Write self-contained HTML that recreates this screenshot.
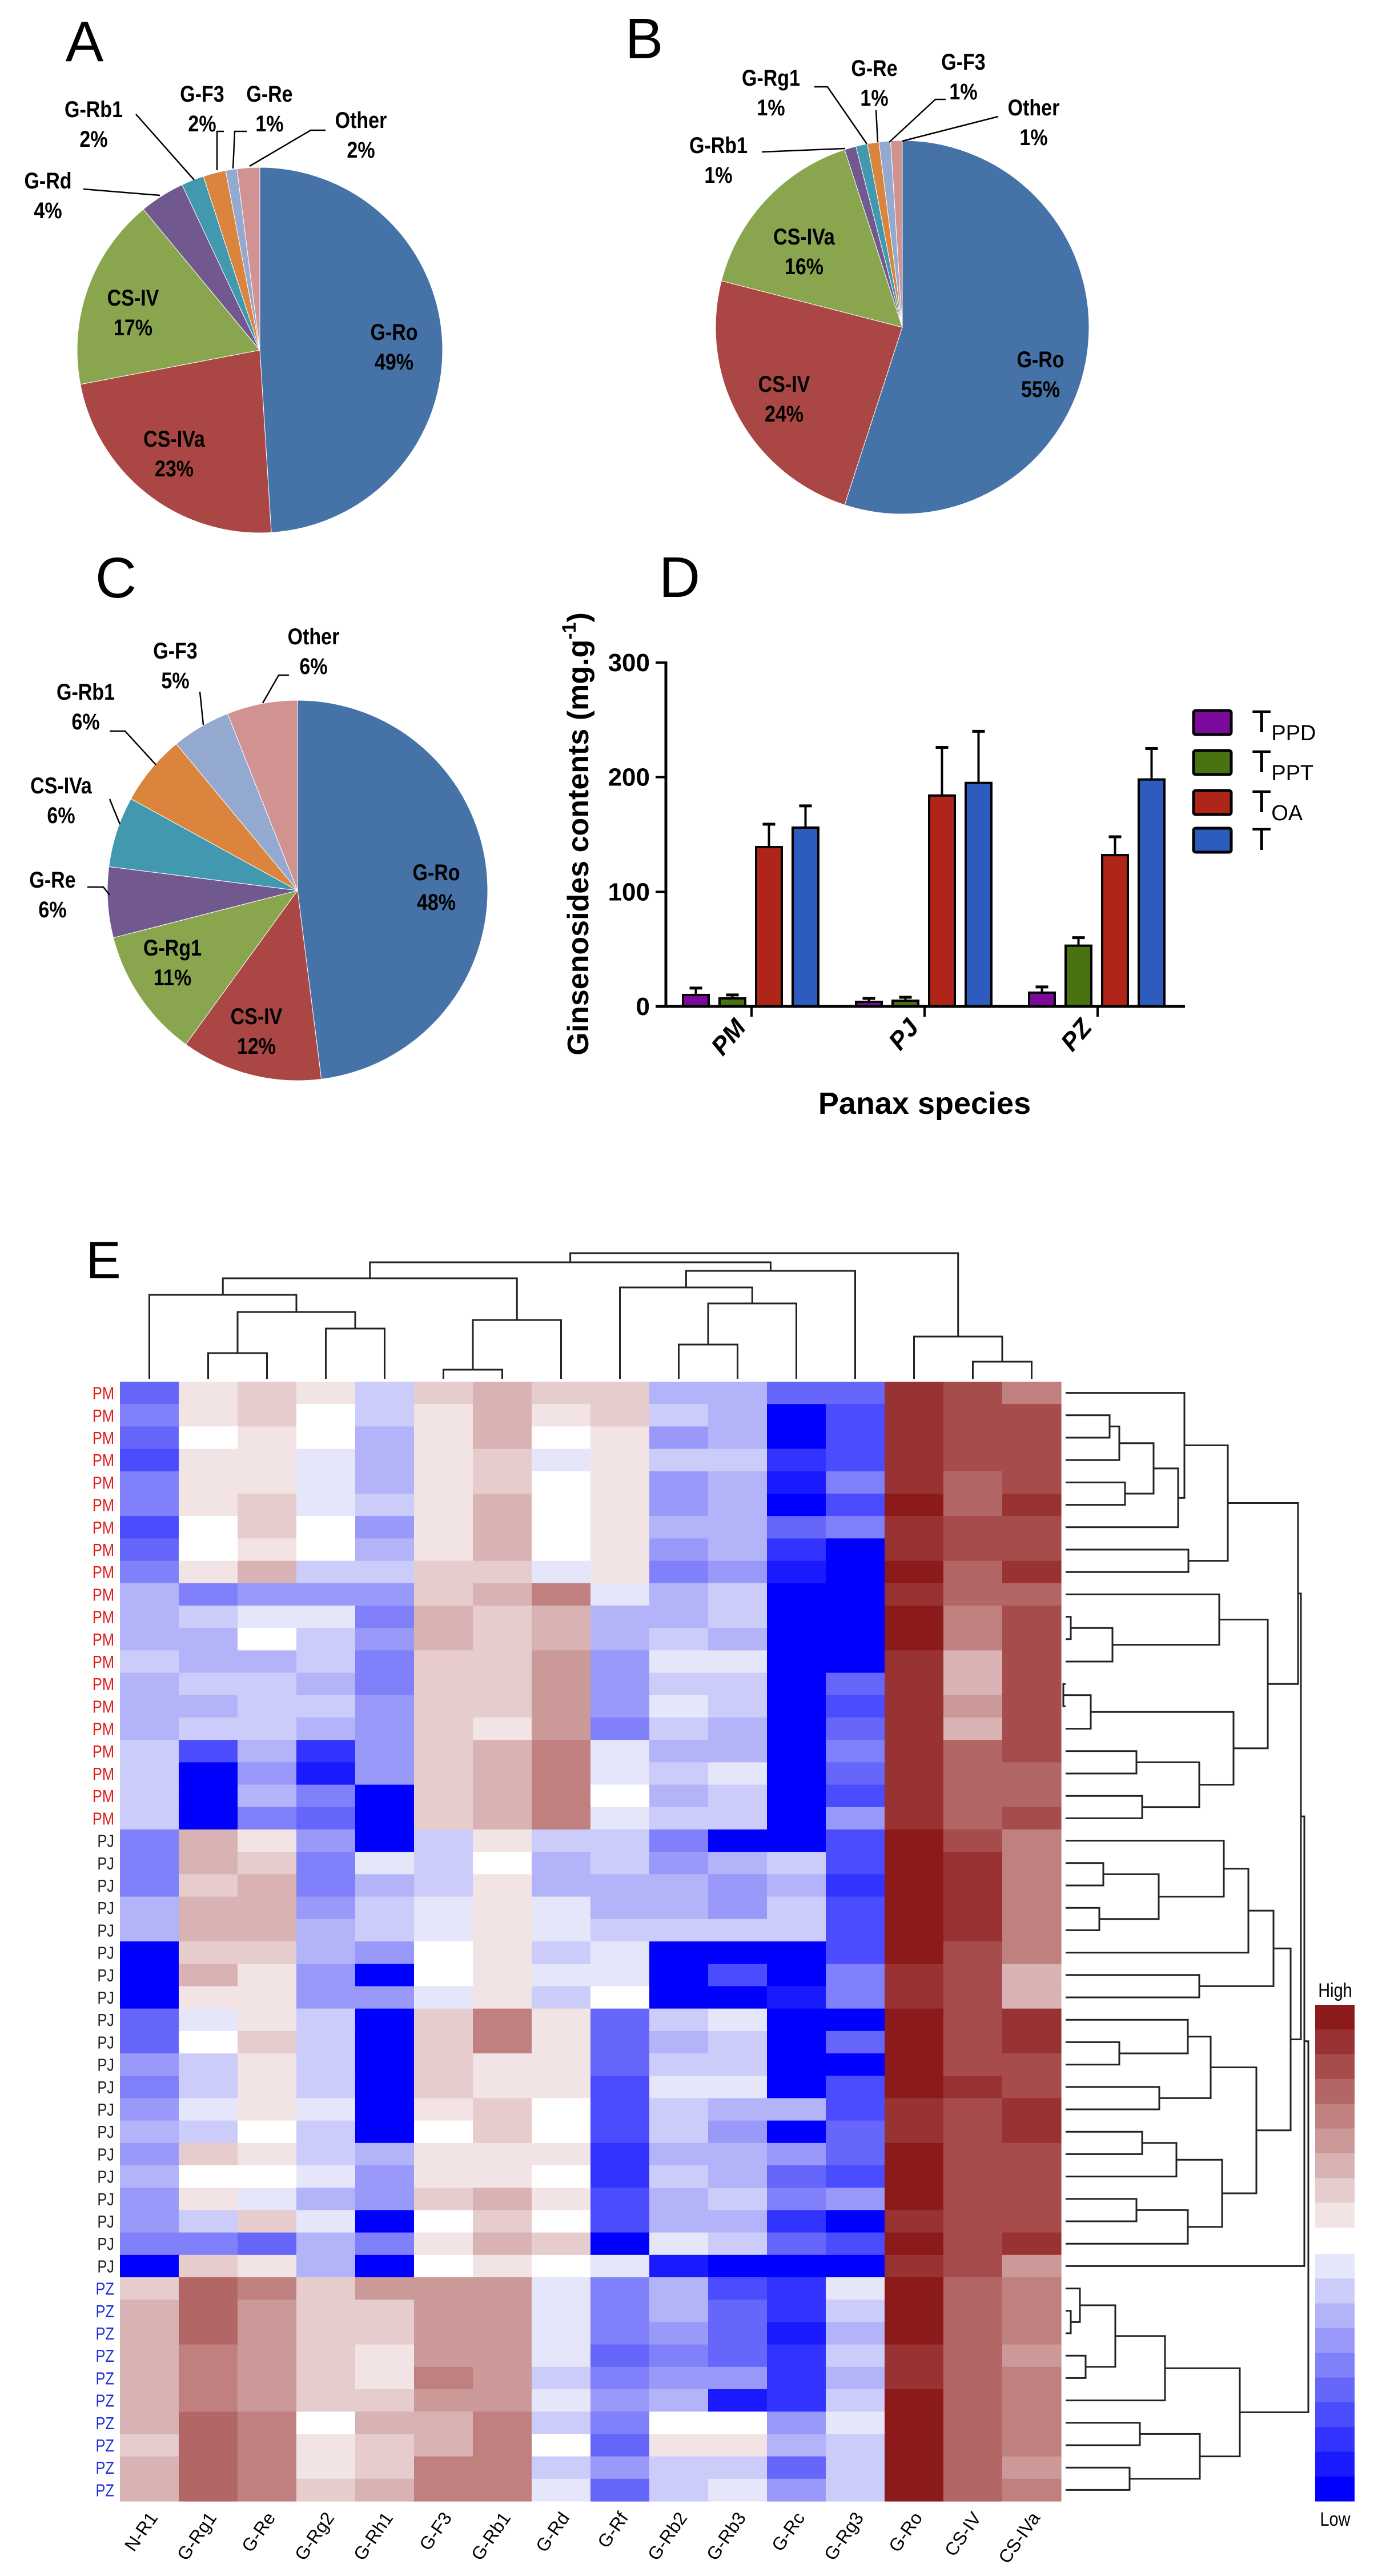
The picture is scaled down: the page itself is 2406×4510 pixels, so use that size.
<!DOCTYPE html>
<html><head><meta charset="utf-8">
<style>
html,body{margin:0;padding:0;background:#fff;}
svg{display:block;font-family:"Liberation Sans",sans-serif;}
</style></head>
<body>
<svg id="fig" xmlns="http://www.w3.org/2000/svg" width="2406" height="4510" viewBox="0 0 2406 4510">
<rect x="0" y="0" width="2406" height="4510" fill="#fff"/>
<g id="pA"></g>
<g id="pB"></g>
<g id="pC"></g>
<g id="pD"></g>
<g id="pE"></g>
</svg>
<script>
// ---------- Pie data ----------
const pieColors = ['#4572A7','#AA4643','#89A54E','#71588F','#4198AF','#DB843D','#93A9CF','#D19392'];
const pieALabels = ['G-Ro','CS-IVa','CS-IV','G-Rd','G-Rb1','G-F3','G-Re','Other'];
const pieAValues = [49,23,17,4,2,2,1,2];
const pieBLabels = ['G-Ro','CS-IV','CS-IVa','G-Rb1','G-Rg1','G-Re','G-F3','Other'];
const pieBValues = [55,24,16,1,1,1,1,1];
const pieCLabels = ['G-Ro','CS-IV','G-Rg1','G-Re','CS-IVa','G-Rb1','G-F3','Other'];
const pieCValues = [48,12,11,6,6,6,5,6];

// ---------- Bar data ----------
const barCategories = ['PM','PJ','PZ'];
const barSeries = ['PPD','PPT','OA',''];
const barColors = ['#7B0A9B','#4A7210','#B0251A','#2E5BBE'];
const valsTPPD = [10,4,12];
const errTPPD = [6,3,5];
const valsTPPT = [7,5,53];
const errTPPT = [3,3,7];
const valsTOA = [139,184,132];
const errTOA = [20,42,16];
const valsT = [156,195,198];
const errT = [19,45,27];
const yTicks = [0,100,200,300];

// ---------- Heatmap data ----------
const hmCols = ['N-R1','G-Rg1','G-Re','G-Rg2','G-Rh1','G-F3','G-Rb1','G-Rd','G-Rf','G-Rb2','G-Rb3','G-Rc','G-Rg3','G-Ro','CS-IV','CS-IVa'];
const hmRowGroups = ['PM','PM','PM','PM','PM','PM','PM','PM','PM','PM','PM','PM','PM','PM','PM','PM','PM','PM','PM','PM',
'PJ','PJ','PJ','PJ','PJ','PJ','PJ','PJ','PJ','PJ','PJ','PJ','PJ','PJ','PJ','PJ','PJ','PJ','PJ','PJ',
'PZ','PZ','PZ','PZ','PZ','PZ','PZ','PZ','PZ','PZ'];
const hmValues = [
[-6,1,2,1,-2,2,3,2,2,-3,-3,-6,-6,8,7,5],
[-5,1,2,0,-2,1,3,1,2,-2,-3,-10,-7,8,7,7],
[-6,0,1,0,-3,1,3,0,1,-4,-3,-10,-7,8,7,7],
[-7,1,1,-1,-3,1,2,-1,1,-2,-2,-8,-7,8,7,7],
[-5,1,1,-1,-3,1,2,0,1,-4,-3,-9,-5,8,6,7],
[-5,1,2,-1,-2,1,3,0,1,-4,-3,-10,-7,9,6,8],
[-7,0,2,0,-4,1,3,0,1,-3,-3,-6,-5,8,7,7],
[-6,0,1,0,-3,1,3,0,1,-4,-3,-8,-10,8,7,7],
[-5,1,3,-2,-2,2,2,-1,1,-5,-4,-9,-10,9,6,8],
[-3,-5,-4,-4,-4,2,3,5,-1,-3,-2,-10,-10,8,6,6],
[-3,-2,-1,-1,-5,3,2,3,-3,-3,-2,-10,-10,9,5,7],
[-3,-3,0,-2,-4,3,2,3,-3,-2,-3,-10,-10,9,5,7],
[-2,-3,-3,-2,-5,2,2,4,-4,-1,-1,-10,-10,8,3,7],
[-3,-2,-2,-3,-5,2,2,4,-4,-2,-2,-10,-6,8,3,7],
[-3,-3,-2,-2,-4,2,2,4,-4,-1,-2,-10,-7,8,4,7],
[-3,-2,-2,-3,-4,2,1,4,-5,-2,-3,-10,-6,8,3,7],
[-2,-7,-3,-8,-4,2,3,5,-1,-3,-3,-10,-5,8,6,7],
[-2,-10,-4,-9,-4,2,3,5,-1,-2,-1,-10,-6,8,6,6],
[-2,-10,-3,-5,-10,2,3,5,0,-3,-2,-10,-7,8,6,6],
[-2,-10,-5,-6,-10,2,3,5,-1,-2,-2,-10,-4,8,6,7],
[-5,3,1,-4,-10,-2,1,-2,-2,-5,-10,-10,-7,9,7,5],
[-5,3,2,-5,-1,-2,0,-3,-2,-4,-3,-2,-7,9,8,5],
[-5,2,3,-5,-3,-2,1,-3,-3,-3,-4,-3,-8,9,8,5],
[-3,3,3,-4,-2,-1,1,-1,-3,-3,-4,-2,-7,9,8,5],
[-3,3,3,-3,-2,-1,1,-1,-2,-2,-2,-2,-7,9,8,5],
[-10,2,2,-3,-4,0,1,-2,-1,-10,-10,-10,-7,9,7,5],
[-10,3,1,-4,-10,0,1,-1,-1,-10,-7,-10,-5,8,7,3],
[-10,1,1,-4,-4,-1,1,-2,0,-10,-10,-9,-5,8,7,3],
[-6,-1,1,-2,-10,2,5,1,-6,-2,-1,-10,-10,9,7,8],
[-6,0,2,-2,-10,2,5,1,-6,-3,-2,-10,-6,9,7,8],
[-4,-2,1,-2,-10,2,1,1,-6,-2,-2,-10,-10,9,7,7],
[-5,-2,1,-2,-10,2,1,1,-7,-1,-1,-10,-7,9,8,7],
[-4,-1,1,-1,-10,1,2,0,-7,-2,-3,-3,-7,8,7,8],
[-3,-2,0,-2,-10,0,2,0,-7,-2,-4,-10,-6,8,7,8],
[-4,2,1,-2,-3,1,1,1,-8,-3,-3,-4,-6,9,7,7],
[-3,0,0,-1,-4,1,1,0,-8,-2,-3,-6,-7,9,7,7],
[-4,1,-1,-3,-4,2,3,1,-7,-3,-2,-5,-4,9,7,7],
[-4,-2,2,-1,-10,0,2,0,-7,-3,-3,-8,-10,8,7,7],
[-5,-5,-6,-3,-5,1,3,2,-10,-1,-2,-6,-7,9,7,8],
[-10,2,1,-3,-10,0,1,0,-1,-9,-10,-10,-10,8,7,4],
[2,6,5,2,4,4,4,-1,-5,-3,-7,-8,-1,9,6,5],
[3,6,4,2,2,4,4,-1,-5,-3,-6,-8,-2,9,6,5],
[3,6,4,2,2,4,4,-1,-5,-4,-6,-9,-3,9,6,5],
[3,5,4,2,1,4,4,-1,-6,-5,-6,-8,-2,8,6,4],
[3,5,4,2,1,5,4,-2,-5,-4,-4,-8,-3,8,6,5],
[3,5,4,2,2,4,4,-1,-4,-3,-9,-8,-2,9,6,5],
[3,6,5,0,3,3,5,-2,-5,0,0,-4,-1,9,6,5],
[2,6,5,1,2,3,5,0,-6,1,1,-3,-2,9,6,5],
[3,6,5,1,2,5,5,-2,-4,-2,-2,-6,-2,9,6,4],
[3,6,5,2,3,5,5,-1,-6,-2,-1,-4,-2,9,6,5]
];
const redScale = ['#F2E4E4','#E6CCCC','#D9B3B3','#CC9999','#C08080','#B36666','#A64C4C','#993333','#8C1A1A'];
const blueScale = ['#E6E6FA','#CCCCFA','#B3B3FA','#9999FA','#8080FA','#6666FA','#4C4CFF','#3333FF','#1A1AFF','#0000FF'];
// dendrogram trees: [left, right, level]
const colTree = [[[[0,[[1,2,2369],[3,4,2326],2297],2267],[[5,6,2398],7,2311],2238],[[8,[[9,10,2354],11,2282],2254],12,2225],2210],[13,[14,15,2384],2340],2194];
const pmTree = [[[[[[[1,2,1943],3,1960],[4,5,1970],2020],6,2063],0,2074],[7,8,2081],2150],[[[[10,11,1875],12,1948],9,2135],[[[13,14,1862],15,1910],[[16,17,1990],[18,19,2000],2100],2160],2220],2273];
const pjTree = [[[[[[21,22,1932],[23,24,1925],2029],20,2143],25,2186],[26,27,2100],2230],[[[28,[29,30,1960],2080],[31,32,2030],2120],[[[33,34,2000],35,2060],[[36,37,1990],38,2080],2140],2200],2260];
const pzTree = [[[[40,[41,42,1875],1891],[43,44,1901],1953],45,2040],[[46,47,1996],[48,49,1978],2101],2171];
const rowTree = [[[pmTree,pjTree,2278],39,2284],pzTree,2291];

const NS='http://www.w3.org/2000/svg';
function mk(tag, attrs, parent){const e=document.createElementNS(NS,tag);for(const k in attrs)e.setAttribute(k,attrs[k]);parent.appendChild(e);return e;}
function txt(parent,x,y,s,size,opts){opts=opts||{};const t=mk('text',{x:x,y:y,'font-size':size,'font-weight':opts.bold?'bold':'normal','text-anchor':opts.anchor||'middle',fill:opts.fill||'#000'},parent);if(opts.tf)t.setAttribute('transform',opts.tf);t.textContent=s;return t;}

// ---------- pies ----------
function drawPie(g, cx, cy, r, values, labels, lab, inner, outer){
  const total = values.reduce((a,b)=>a+b,0);
  let a0 = -Math.PI/2;
  values.forEach((v,i)=>{
    const a1 = a0 + v/total*2*Math.PI;
    const x0=cx+r*Math.cos(a0), y0=cy+r*Math.sin(a0), x1=cx+r*Math.cos(a1), y1=cy+r*Math.sin(a1);
    const large = (a1-a0)>Math.PI?1:0;
    const p = mk('path',{d:`M${cx},${cy} L${x0},${y0} A${r},${r} 0 ${large} 1 ${x1},${y1} Z`,fill:pieColors[i],stroke:'#fff','stroke-width':1},g);
    
    
    a0=a1;
  });
  txt(g, lab[0], lab[1], lab[2], 100);
  inner.forEach(l=>{
    const i=l[0];
    txt(g,l[1],l[2],labels[i],40,{bold:true,tf:`translate(${l[1]},0) scale(0.85,1) translate(${-l[1]},0)`});
    txt(g,l[1],l[2]+52,values[i]+'%',40,{bold:true,tf:`translate(${l[1]},0) scale(0.85,1) translate(${-l[1]},0)`});
  });
  outer.forEach(l=>{
    const i=l[0];
    txt(g,l[1],l[2],labels[i],40,{bold:true,tf:`translate(${l[1]},0) scale(0.85,1) translate(${-l[1]},0)`});
    txt(g,l[1],l[2]+52,values[i]+'%',40,{bold:true,tf:`translate(${l[1]},0) scale(0.85,1) translate(${-l[1]},0)`});
    mk('polyline',{points:l[3],fill:'none',stroke:'#000','stroke-width':2.5},g);
  });
}
drawPie(document.getElementById('pA'),455,613,320,pieAValues,pieALabels,[148,107,'A'],
  [[0,690,595],[1,305,782],[2,233,535]],
  [[3,84,330,'146,331 280,342'],[4,164,205,'238,200 340,315'],[5,354,178,'392,230 380,230 380,298'],[6,472,178,'432,230 411,230 408,295'],[7,632,224,'570,228 544,228 437,291']]);
drawPie(document.getElementById('pB'),1580,573,327,pieBValues,pieBLabels,[1128,102,'B'],
  [[0,1822,643],[1,1373,686],[2,1408,428]],
  [[3,1258,268,'1334,266 1480,260'],[4,1350,150,'1426,152 1449,152 1518,252'],[5,1531,133,'1534,193 1537,249'],[6,1687,122,'1656,174 1638,174 1557,249'],[7,1810,202,'1748,204 1580,247']]);
drawPie(document.getElementById('pC'),521,1559,333,pieCValues,pieCLabels,[203,1046,'C'],
  [[0,764,1541],[1,449,1793],[2,302,1673]],
  [[3,92,1554,'153,1553 181,1553 192,1567'],[4,107,1389,'192,1399 210,1443'],[5,150,1225,'192,1280 219,1280 273,1339'],[6,307,1153,'350,1211 356,1269'],[7,549,1128,'506,1182 488,1182 460,1231']]);

// ---------- bar chart ----------
(function(){
  const g=document.getElementById('pD');
  const x0=1166, yZero=1762, yTop=1160, xEnd=2075;
  const yScale=v=>yZero-(v/300)*(yZero-yTop);
  const groupCenter=i=>1316+i*303;
  const barX=(i,s)=>groupCenter(i)-120+s*64;
  const bw=45;
  txt(g,1190,1045,'D',100);
  const series=[[valsTPPD,errTPPD],[valsTPPT,errTPPT],[valsTOA,errTOA],[valsT,errT]];
  series.forEach((se,s)=>{
    se[0].forEach((v,i)=>{
      const x=barX(i,s), y=yScale(v), ye=yScale(v+se[1][i]);
      const ln=mk('line',{x1:x+bw/2,y1:y,x2:x+bw/2,y2:ye,stroke:'#000','stroke-width':4},g);
      const cap=mk('line',{x1:x+bw/2-11,y1:ye,x2:x+bw/2+11,y2:ye,stroke:'#000','stroke-width':5},g);
      const r=mk('rect',{x:x,y:y,width:bw,height:yZero-y,fill:barColors[s],stroke:'#000','stroke-width':4},g);
      
      
    });
  });
  mk('line',{x1:x0,y1:yTop-2,x2:x0,y2:yZero+2,stroke:'#000','stroke-width':5},g);
  mk('line',{x1:1148,y1:yZero,x2:xEnd,y2:yZero,stroke:'#000','stroke-width':5},g);
  yTicks.forEach(t=>{
    const y=yScale(t);
    mk('line',{x1:1148,y1:y,x2:x0,y2:y,stroke:'#000','stroke-width':4},g);
    const tl=txt(g,1138,y+15,String(t),44,{bold:true,anchor:'end'});
    
    
  });
  barCategories.forEach((c,i)=>{
    const x=groupCenter(i);
    mk('line',{x1:x,y1:yZero,x2:x,y2:yZero+18,stroke:'#000','stroke-width':4},g);
    const t=txt(g,x-8,1800,c,44,{bold:true,anchor:'end',tf:`rotate(-50 ${x-8} 1800)`});
    t.setAttribute('font-style','italic');
    
    
  });
  const xt=txt(g,1619,1950,'Panax species',54,{bold:true});
  
  
  const yt=mk('text',{x:1030,y:1460,'font-size':52,'font-weight':'bold','text-anchor':'middle',transform:'rotate(-90 1030 1460)'},g);
  yt.innerHTML='Ginsenosides contents (mg.g<tspan dy="-22" font-size="34">-1</tspan><tspan dy="22">)</tspan>';
  
  
  const ly=[1244,1314,1384,1450];
  barSeries.forEach((s,k)=>{
    const r=mk('rect',{x:2090,y:ly[k],width:66,height:42,rx:4,fill:barColors[k],stroke:'#000','stroke-width':5},g);
    
    
    const t=mk('text',{x:2192,y:ly[k]+38,'font-size':56},g);
    t.innerHTML='T'+(s?'<tspan dy="14" font-size="38">'+s+'</tspan>':'');
    
    
  });
})();

// ---------- heatmap ----------
(function(){
  const g=document.getElementById('pE');
  const left=210, top=2419, cw=103, rh=39.2;
  const colorOf=v=>v>0?redScale[Math.min(v,9)-1]:(v<0?blueScale[Math.min(-v,10)-1]:'#FFFFFF');
  txt(g,181,2238,'E',92);
  hmValues.forEach((row,r)=>{
    row.forEach((v,c)=>{
      const cell=mk('rect',{x:left+c*cw,y:top+r*rh,width:cw+0.6,height:rh+0.6,fill:colorOf(v)},g);
      
      
    });
    const grp=hmRowGroups[r];
    const col=grp==='PM'?'#E01B1B':(grp==='PZ'?'#1F2FD8':'#222');
    const t=txt(g,200,top+r*rh+rh/2+11,grp,31,{anchor:'end',fill:col,tf:`translate(200,0) scale(0.82,1) translate(-200,0)`});
    
    
  });
  hmCols.forEach((c,i)=>{
    const x=left+i*cw+cw/2+16, y=4408;
    const t=txt(g,x,y,c,32,{anchor:'end',tf:`rotate(-55 ${x} ${y})`});
    
    
  });
  // column dendrogram
  const leafBottom=2414;
  function drawCol(n){
    if(typeof n==='number') return {p:left+n*cw+cw/2,h:leafBottom};
    const a=drawCol(n[0]), b=drawCol(n[1]), h=n[2];
    mk('polyline',{points:`${a.p},${a.h} ${a.p},${h} ${b.p},${h} ${b.p},${b.h}`,fill:'none',stroke:'#222','stroke-width':3},g);
    return {p:(a.p+b.p)/2,h:h};
  }
  drawCol(colTree);
  const leafX=1866;
  function drawRow(n){
    if(typeof n==='number') return {p:top+n*rh+rh/2,h:leafX};
    const a=drawRow(n[0]), b=drawRow(n[1]), h=n[2];
    mk('polyline',{points:`${a.h},${a.p} ${h},${a.p} ${h},${b.p} ${b.h},${b.p}`,fill:'none',stroke:'#222','stroke-width':3},g);
    return {p:(a.p+b.p)/2,h:h};
  }
  drawRow(rowTree);
  // colour key
  const kx=2303, kw=69, st=43.3;
  redScale.slice().reverse().forEach((c,i)=>{
    const k=mk('rect',{x:kx,y:3510+i*st,width:kw,height:st+0.5,fill:c},g);
    
    
  });
  blueScale.forEach((c,i)=>{
    const k=mk('rect',{x:kx,y:3946+i*st,width:kw,height:st+0.5,fill:c},g);
    
    
  });
  const hi=txt(g,2338,3496,'High',34,{tf:'translate(2338,0) scale(0.85,1) translate(-2338,0)'});
  
  
  const lo=txt(g,2338,4422,'Low',34,{tf:'translate(2338,0) scale(0.85,1) translate(-2338,0)'});
  
  
})();
</script>
</body></html>
